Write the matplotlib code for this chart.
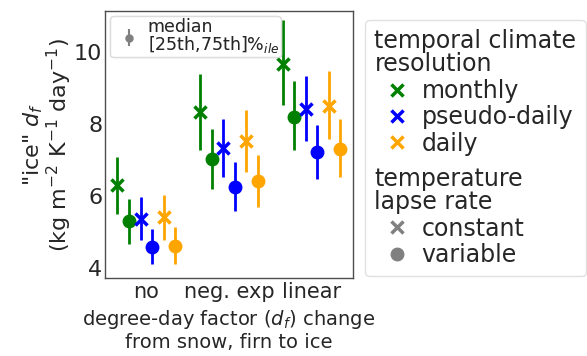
import numpy as np
import matplotlib
matplotlib.use('Agg')
import matplotlib.pyplot as plt
from matplotlib.lines import Line2D

# degree-day factor change from snow, firn to ice
groups = ['no', 'neg. exp', 'linear']
resolutions = ['monthly', 'pseudo-daily', 'daily']
res_colors = ['green', 'blue', 'orange']

# medians and interquartile ranges, constant lapse rate (x)
med_const = {'monthly': [6.30, 8.33, 9.69],
             'pseudo-daily': [5.36, 7.33, 8.41],
             'daily': [5.41, 7.52, 8.52]}
q25_const = {'monthly': [5.51, 7.28, 8.54],
             'pseudo-daily': [4.78, 6.52, 7.53],
             'daily': [4.78, 6.67, 7.58]}
q75_const = {'monthly': [7.10, 9.39, 10.91],
             'pseudo-daily': [5.97, 8.15, 9.33],
             'daily': [6.04, 8.39, 9.48]}

# variable lapse rate (o)
med_var = {'monthly': [5.30, 7.02, 8.20],
           'pseudo-daily': [4.59, 6.25, 7.24],
           'daily': [4.62, 6.41, 7.30]}
q25_var = {'monthly': [4.66, 6.21, 7.28],
           'pseudo-daily': [4.10, 5.58, 6.47],
           'daily': [4.10, 5.71, 6.53]}
q75_var = {'monthly': [5.93, 7.87, 9.19],
           'pseudo-daily': [5.08, 6.94, 7.98],
           'daily': [5.13, 7.14, 8.15]}

plt.rcParams['font.family'] = 'DejaVu Sans'
plt.rcParams['text.color'] = '0.15'
plt.rcParams['axes.labelcolor'] = '0.15'
plt.rcParams['xtick.color'] = '0.15'
plt.rcParams['ytick.color'] = '0.15'

fig = plt.figure(figsize=(5.87, 3.56), dpi=100)
ax = fig.add_axes([0.179, 0.219, 0.422, 0.750])

x = np.arange(len(groups))
step = 0.14
for i, res in enumerate(resolutions):
    c = res_colors[i]
    xc = x + (2 * i - 2.5) * step
    xv = x + (2 * i - 1.5) * step
    m = np.array(med_const[res])
    ax.errorbar(xc, m, yerr=[m - np.array(q25_const[res]), np.array(q75_const[res]) - m],
                fmt='x', color=c, ms=8, mew=2.5, elinewidth=2, capsize=0)
    m = np.array(med_var[res])
    ax.errorbar(xv, m, yerr=[m - np.array(q25_var[res]), np.array(q75_var[res]) - m],
                fmt='o', color=c, ms=9, elinewidth=2, capsize=0)

ax.set_xlim(-0.5, 2.5)
ax.set_ylim(3.72, 11.15)
ax.set_xticks(x)
ax.set_xticklabels(groups, fontsize=15)
ax.set_yticks([4, 6, 8, 10])
ax.tick_params(axis='y', labelsize=16, length=0, pad=2)
ax.tick_params(axis='x', length=0, pad=3)
for s in ax.spines.values():
    s.set_color('0.3')
    s.set_linewidth(1.0)

ax.set_ylabel('"ice" $d_f$\n(kg m$^{-2}$ K$^{-1}$ day$^{-1}$)', fontsize=16,
              labelpad=0, linespacing=1.0)
ax.set_xlabel('degree-day factor ($d_f$) change\nfrom snow, firn to ice', fontsize=14,
              linespacing=1.15)

# small legend for the errorbar meaning
eb = ax.errorbar([], [], yerr=[], fmt='o', color='grey', ms=5, elinewidth=1.5)
leg1 = ax.legend([eb], ['median\n[25th,75th]%$_{ile}$'], loc='upper left',
                 fontsize=12.5, handlelength=2.0, handletextpad=0.05,
                 borderaxespad=0.3, borderpad=0.1, labelspacing=0.1,
                 edgecolor='0.85', fancybox=True, framealpha=0.8)
for t in leg1.get_texts():
    t.set_linespacing(0.9)
ax.add_artist(leg1)

# right-hand legend
blank = Line2D([], [], ls='none')
handles = [blank]
labels = ['temporal climate\nresolution']
for i, res in enumerate(resolutions):
    handles.append(Line2D([], [], ls='none', marker='x', color=res_colors[i], ms=8, mew=2.5))
    labels.append(res)
handles += [blank, blank,
            Line2D([], [], ls='none', marker='x', color='grey', ms=8, mew=2.5),
            Line2D([], [], ls='none', marker='o', color='grey', ms=9)]
labels += ['', 'temperature\nlapse rate', 'constant', 'variable']
title_rows = [0, 5]

leg2 = fig.legend(handles, labels, loc='upper left',
                  bbox_to_anchor=(365 / 587, 1 - 20 / 356), borderaxespad=0,
                  fontsize=17, handlelength=1.9, handletextpad=0.1,
                  labelspacing=0.1, borderpad=0.4, edgecolor='0.85',
                  fancybox=True)
for t in leg2.get_texts():
    t.set_linespacing(0.95)

# title rows: no handle area, text starts at the left edge
col = leg2._legend_handle_box.get_children()[0]
rows = col.get_children()
for k in title_rows:
    rows[k].get_children()[0].width = 0
    rows[k].sep = 0
# thin spacer row between the two blocks
rows[4].get_children()[0].height = 5
rows[4].get_children()[1]._text.set_fontsize(1)

fig.savefig('out.png', dpi=100)
